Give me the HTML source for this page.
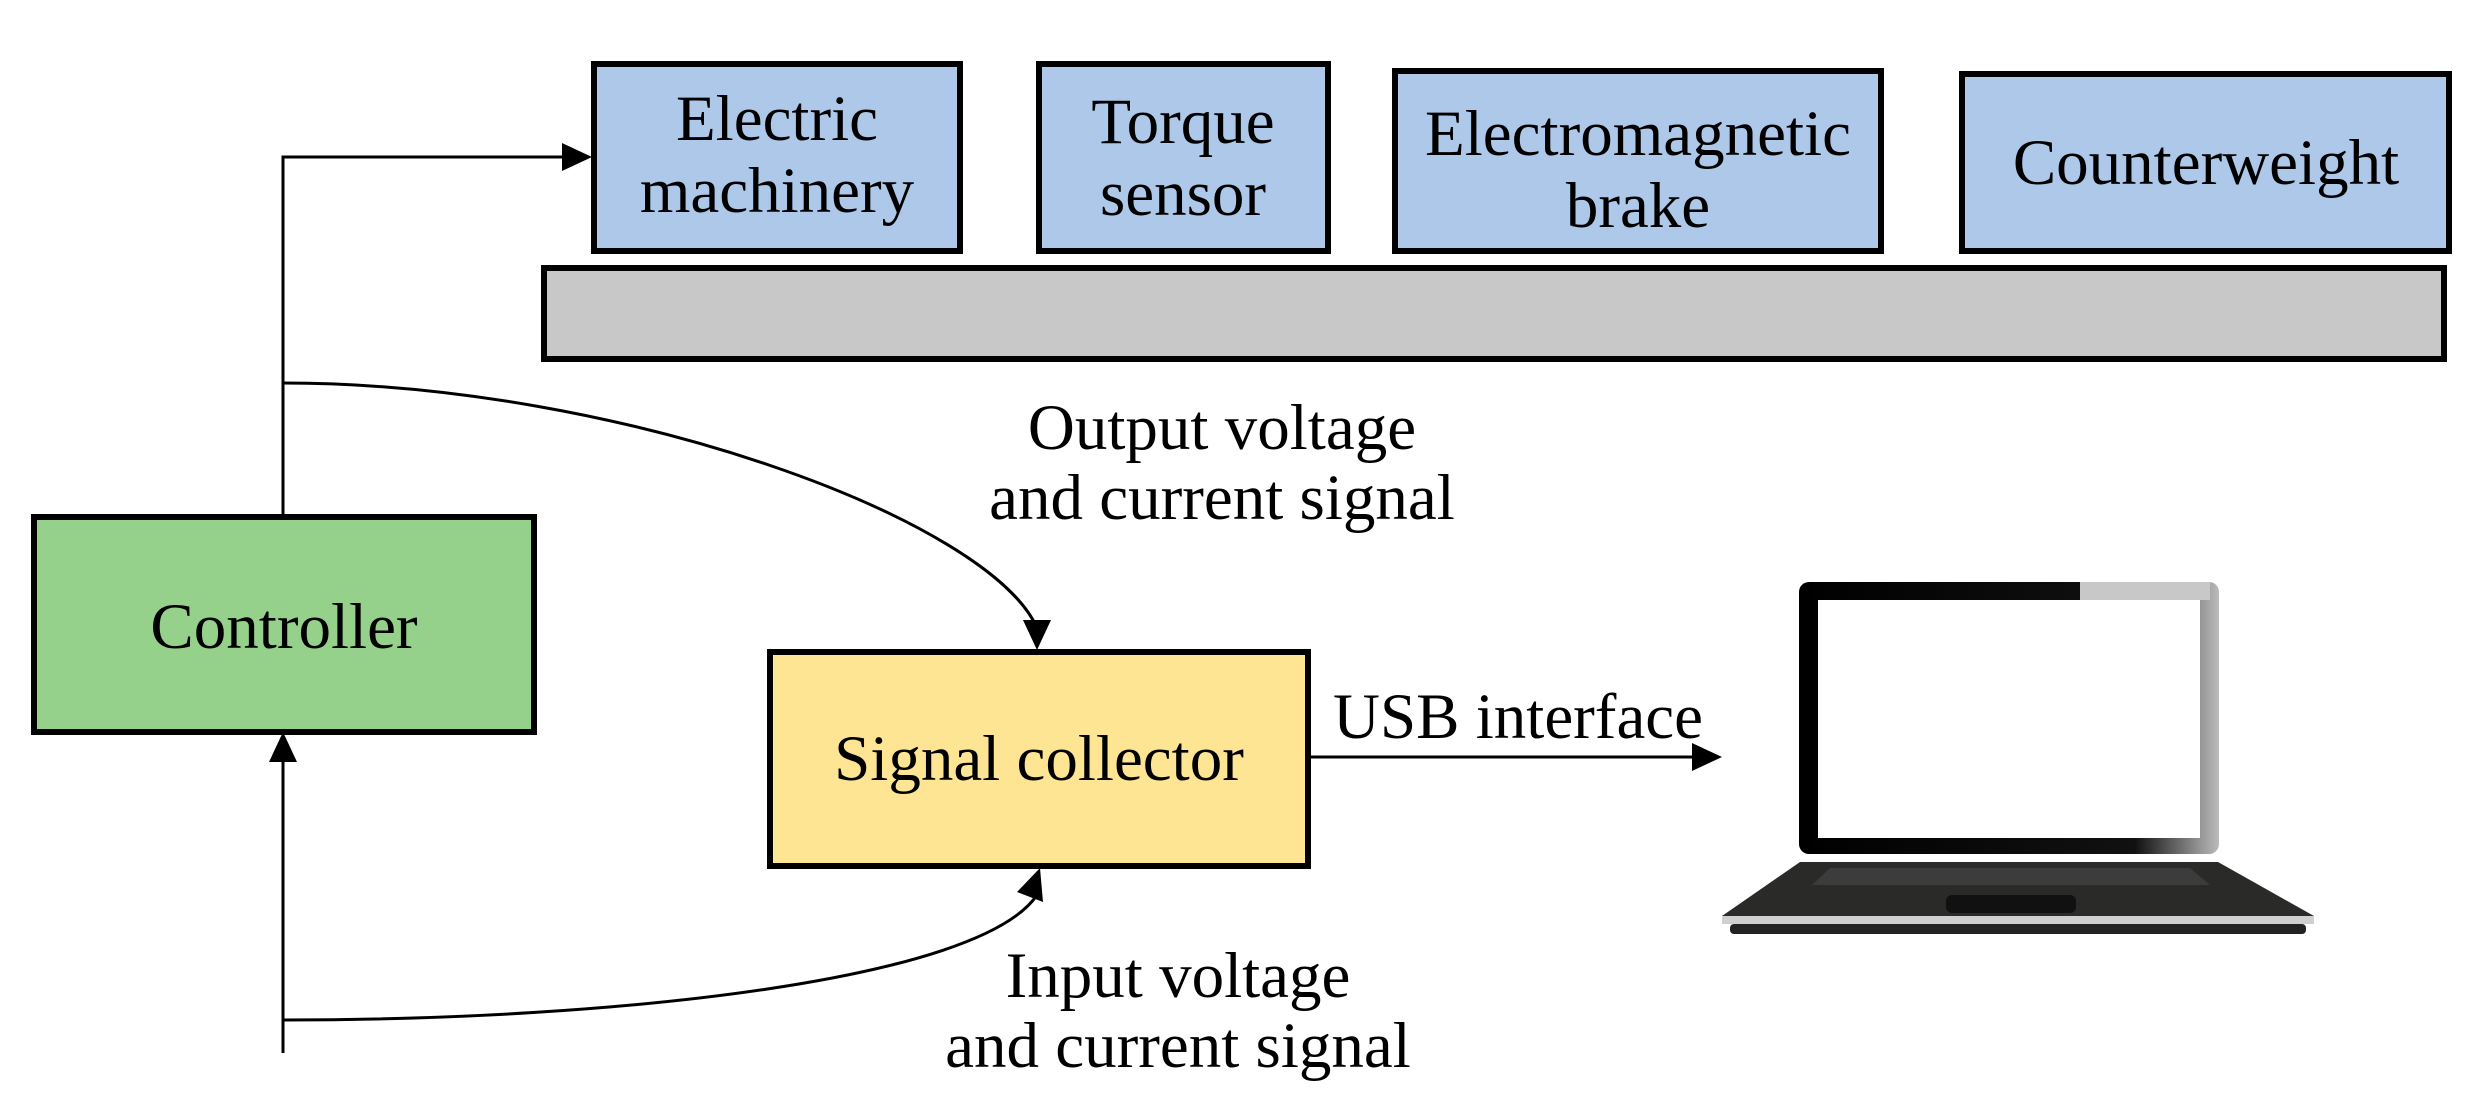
<!DOCTYPE html>
<html><head><meta charset="utf-8"><style>
html,body{margin:0;padding:0;background:#fff;}
svg{display:block;}
text{font-family:"Liberation Serif",serif;font-size:65px;fill:#000;}
</style></head><body>
<svg width="2474" height="1101" viewBox="0 0 2474 1101" xmlns="http://www.w3.org/2000/svg">
<defs>
<linearGradient id="bz" x1="0" x2="1" y1="0" y2="0"><stop offset="0" stop-color="#000"/><stop offset="0.8" stop-color="#111"/><stop offset="1" stop-color="#bbb"/></linearGradient>
</defs>
<rect x="594" y="64" width="366" height="187" fill="#adc8e8" stroke="#000" stroke-width="6"/>
<rect x="1039" y="64" width="289" height="187" fill="#adc8e8" stroke="#000" stroke-width="6"/>
<rect x="1395" y="71" width="486" height="180" fill="#adc8e8" stroke="#000" stroke-width="6"/>
<rect x="1962" y="74" width="487" height="177" fill="#adc8e8" stroke="#000" stroke-width="6"/>
<rect x="544" y="268" width="1900" height="91" fill="#c8c8c8" stroke="#000" stroke-width="6"/>
<text x="777" y="140" text-anchor="middle">Electric</text>
<text x="777" y="212" text-anchor="middle">machinery</text>
<text x="1183" y="143" text-anchor="middle">Torque</text>
<text x="1183" y="215" text-anchor="middle">sensor</text>
<text x="1638" y="155" text-anchor="middle">Electromagnetic</text>
<text x="1638" y="227" text-anchor="middle">brake</text>
<text x="2206" y="184" text-anchor="middle">Counterweight</text>
<rect x="34" y="517" width="500" height="215" fill="#95d18a" stroke="#000" stroke-width="6"/>
<text x="284" y="648" text-anchor="middle">Controller</text>
<rect x="770" y="652" width="538" height="214" fill="#fee594" stroke="#000" stroke-width="6"/>
<text x="1039" y="780" text-anchor="middle">Signal collector</text>
<g stroke="#000" stroke-width="3" fill="none">
<path d="M283,515 V157 H570"/>
<path d="M283,1053 V760"/>
<path d="M283,383 C620,383 990,520 1037,628"/>
<path d="M283,1020 C620,1020 980,980 1037,895"/>
<path d="M1310,757 H1700"/>
</g>
<g fill="#000">
<polygon points="592,157 562,143 562,171"/>
<polygon points="283,732 269,762 297,762"/>
<polygon points="1037,650 1023,620 1051,620"/>
<polygon points="1040,868 1017,892 1043,902"/>
<polygon points="1722,757 1692,743 1692,771"/>
</g>
<text x="1222" y="449" text-anchor="middle">Output voltage</text>
<text x="1222" y="519" text-anchor="middle">and current signal</text>
<text x="1178" y="997" text-anchor="middle">Input voltage</text>
<text x="1178" y="1067" text-anchor="middle">and current signal</text>
<text x="1333" y="738">USB interface</text>
<rect x="1799" y="582" width="420" height="272" rx="10" fill="url(#bz)"/>
<rect x="2080" y="582" width="130" height="18" fill="#c8c8c8"/>
<rect x="1818" y="600" width="382" height="238" fill="#fff"/>
<polygon points="1800,862 2218,862 2314,916 1722,916" fill="#2a2a28"/>
<polygon points="1830,868 2190,868 2210,885 1812,885" fill="#3c3c3c"/>
<rect x="1946" y="895" width="130" height="18" rx="6" fill="#111"/>
<rect x="1722" y="916" width="592" height="8" fill="#cfcfcf"/>
<rect x="1730" y="924" width="576" height="10" rx="4" fill="#222"/>
</svg>
</body></html>
